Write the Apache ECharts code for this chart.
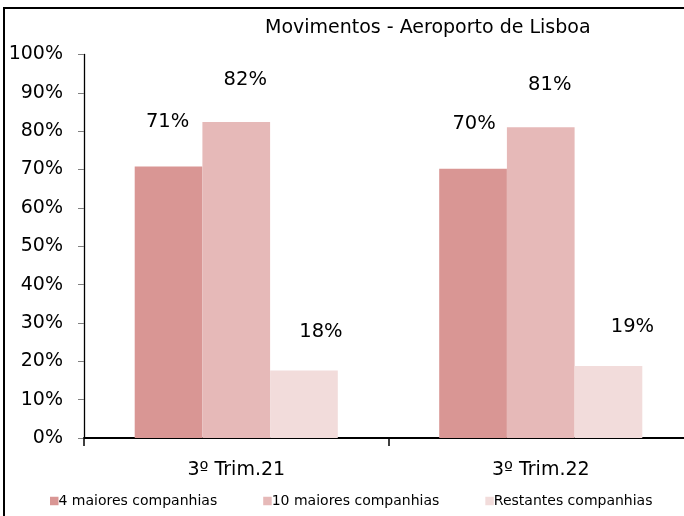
<!DOCTYPE html>
<html>
<head>
<meta charset="utf-8">
<script src="https://cdn.jsdelivr.net/npm/echarts@6/dist/echarts.min.js"></script>
<style>
html,body{margin:0;padding:0;background:#fff;overflow:hidden;}
#wrap{position:relative;width:684px;height:516px;overflow:hidden;}
#chart{width:684px;height:516px;}
#frame{position:absolute;left:3px;top:7px;width:720px;height:600px;border-left:2px solid #000;border-top:2px solid #000;pointer-events:none;}
</style>
</head>
<body>
<div id="wrap"><div id="chart"></div><div id="frame"></div></div>
<script>
const titleText = 'Movimentos - Aeroporto de Lisboa';
const categories = ['3º Trim.21', '3º Trim.22'];
const seriesNames = ['4 maiores companhias', '10 maiores companhias', 'Restantes companhias'];
const top4 = [70.8, 70.2];
const top10 = [82.4, 81.0];
const others = [17.6, 18.8];
const yTicks = [0, 10, 20, 30, 40, 50, 60, 70, 80, 90, 100];

const colors = ['#D99694', '#E6B9B8', '#F2DCDB'];
const labelDist = [35, 32, 29];
const labelDx = [[-1, 1], [9, 9], [17, 24]];
const FONT = 'DejaVu Sans';

const chart = echarts.init(document.getElementById('chart'), null, {renderer: 'canvas'});
const valuesList = [top4, top10, others];

const series = valuesList.map((vals, si) => ({
  name: seriesNames[si],
  type: 'bar',
  barGap: '0%',
  barCategoryGap: '33.3%',
  itemStyle: {color: colors[si]},
  data: vals.map((v, ci) => ({
    value: v,
    label: {offset: [labelDx[si][ci], 0]}
  })),
  label: {
    show: true,
    position: 'top',
    distance: labelDist[si],
    color: '#000',
    fontFamily: FONT,
    fontSize: 19.5,
    formatter: p => Math.round(p.value) + '%'
  }
}));

chart.setOption({
  animation: false,
  backgroundColor: '#fff',
  title: {
    text: titleText,
    left: 265,
    top: 19,
    padding: 0,
    textStyle: {fontFamily: FONT, fontSize: 19, fontWeight: 'normal', color: '#000'}
  },
  legend: {
    data: seriesNames,
    left: 50,
    top: 494,
    itemWidth: 8.5,
    itemHeight: 8.5,
    itemGap: 46,
    icon: 'rect',
    padding: 0,
    textStyle: {fontFamily: FONT, fontSize: 14, color: '#000', padding: [0, 0, 0, -5]}
  },
  grid: {show: false, left: 84, right: -9, top: 54.5, bottom: 78, containLabel: false, outerBoundsMode: 'none'},
  xAxis: {
    type: 'category',
    data: categories,
    splitLine: {show: false},
    splitArea: {show: false},
    axisLine: {lineStyle: {color: '#000', width: 2}},
    axisTick: {show: true, length: 8, lineStyle: {color: '#000', width: 1.5}},
    axisLabel: {fontFamily: FONT, fontSize: 19, color: '#000', margin: 23}
  },
  yAxis: {
    type: 'value',
    min: yTicks[0],
    max: yTicks[yTicks.length - 1],
    interval: yTicks[1] - yTicks[0],
    splitLine: {show: false},
    axisLine: {show: true, lineStyle: {color: '#000', width: 1.3}},
    axisTick: {show: true, length: 6, lineStyle: {color: '#808080', width: 1}},
    axisLabel: {fontFamily: FONT, fontSize: 19, color: '#000', margin: 21, formatter: '{value}%'}
  },
  series: series
});
</script>
</body>
</html>
